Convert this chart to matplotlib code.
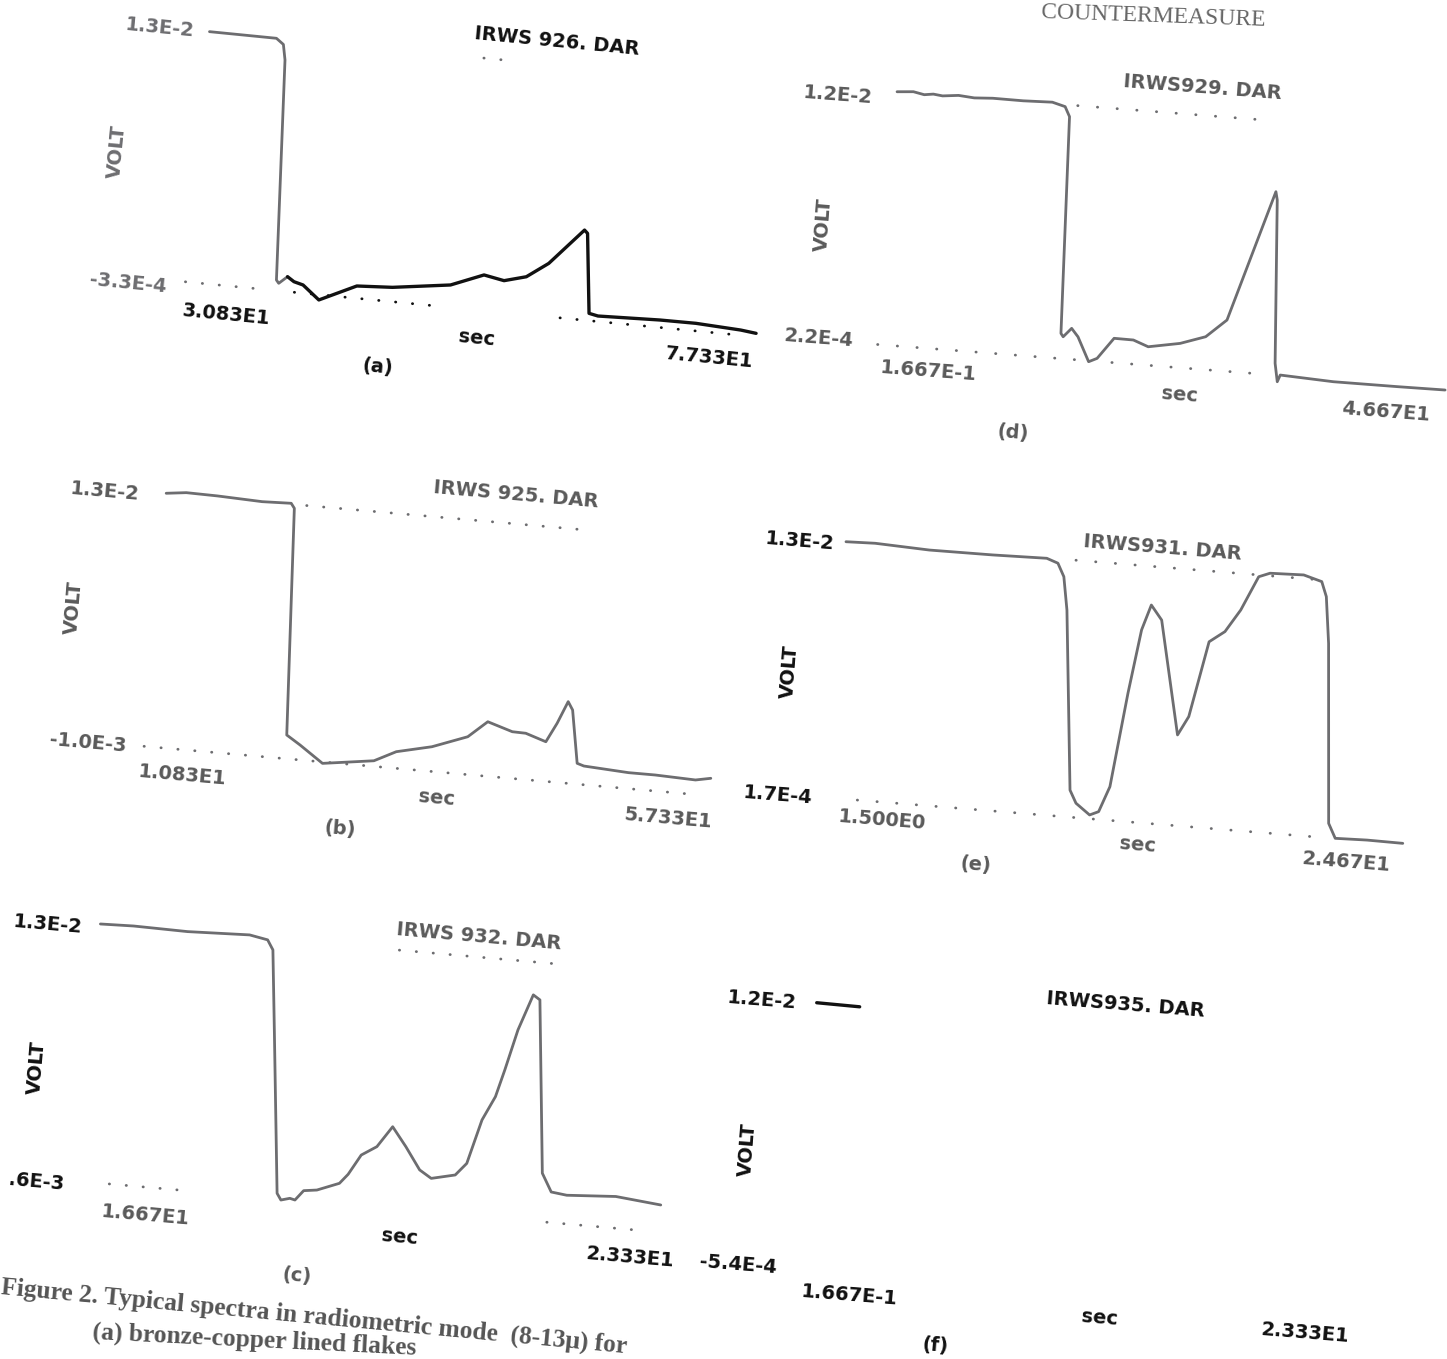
import numpy as np
import matplotlib
matplotlib.use('Agg')
import matplotlib.pyplot as plt
from matplotlib.transforms import Affine2D

# ---- data (time in s, signal in volt) ----
# (a) IRWS926
a_t = [30.83, 36.29, 36.90, 37.15, 38.17, 38.38, 39.04, 39.60, 40.36, 41.75, 44.71, 47.60,
       52.27, 54.90, 56.56, 58.33, 60.04, 62.67, 62.94, 63.68, 64.42, 69.47, 72.39, 76.06, 77.33]
a_v = [1.300e-2, 1.299e-2, 1.270e-2, 1.189e-2, 2.27e-4, 0.65e-4, 4.59e-4, 2.27e-4, 1.0e-4, -6.1e-4,
       3.2e-4, 4.3e-4, 8.5e-4, 1.55e-3, 1.35e-3, 1.67e-3, 2.49e-3, 4.43e-3, 4.27e-3, 0.57e-4,
       -3.9e-5, 6.5e-5, 7.3e-5, -5.4e-5, -1.5e-4]
a_split = 7          # trace turns from grey to black here
a_dots_lo = [(30.83, 36.7), (39.71, 51.03), (61.37, 76.12)]
a_dots_hi = [(53.2, 55.0)]

# (d) IRWS929
d_t = [0.167, 1.5, 2.4, 3.14, 3.9, 5.2, 6.5, 8.01, 10.5, 12.88, 13.95, 14.37, 15.03, 15.23, 15.87,
       16.44, 17.46, 18.13, 19.39, 20.97, 22.22, 24.80, 26.84, 28.47, 31.65, 31.81, 32.66, 32.95,
       33.15, 37.52, 42.75, 46.67]
d_v = [0.01200, 0.01206, 0.01196, 0.01202, 0.01197, 0.01205, 0.01199, 0.01204, 0.01203, 0.01207,
       0.01191, 0.01146, 1.39e-3, 1.24e-3, 1.66e-3, 1.29e-3, 1.75e-4, 3.6e-4, 1.35e-3, 1.34e-3,
       1.08e-3, 1.35e-3, 1.75e-3, 2.6e-3, 8.72e-3, 8.34e-3, 7.64e-4, -8e-5, 2.4e-4, 1.2e-4,
       1.2e-4, 1.34e-4]
d_dots_hi = [(14.97, 31.02)]
d_dots_lo = [(0.167, 16.58), (19.36, 31.58)]

# (b) IRWS925
b_t = [10.83, 12.47, 15.04, 18.73, 21.11, 21.40, 22.40, 22.98, 23.56, 25.52, 29.70, 31.46, 34.34,
       37.19, 38.72, 40.79, 41.90, 43.60, 44.39, 45.14, 45.56, 46.31, 46.88, 50.57, 52.77, 56.09, 57.33]
b_v = [0.0130, 0.01313, 0.0131, 0.0130, 0.01305, 0.01279, 3.06e-4, 6.4e-5, -1.8e-4, -1.08e-3,
       -6.9e-4, -8.5e-5, 3.6e-4, 1.08e-3, 2.0e-3, 1.57e-3, 1.55e-3, 1.18e-3, 2.25e-3, 3.49e-3,
       3.05e-3, 1.47e-4, 3e-5, -1.2e-4, -1.2e-4, -2e-4, -3.5e-5]
b_dots_hi = [(22.39, 45.54)]
b_dots_lo = [(10.83, 56.56)]

# (e) IRWS931
e_t = [1.50, 2.67, 4.85, 7.39, 9.56, 10.02, 10.30, 10.53, 11.23, 11.51, 12.09, 12.44, 12.81, 13.23,
       13.57, 13.88, 14.34, 15.34, 15.73, 16.30, 16.90, 17.46, 18.07, 18.51, 19.86, 20.60, 20.83,
       21.07, 21.65, 21.96, 23.23, 24.67]
e_v = [0.0130, 0.01304, 0.01292, 0.01293, 0.01298, 0.01278, 0.01213, 0.01048, 1.52e-3, 8.9e-4,
       3.6e-4, 5.6e-4, 1.85e-3, 6.58e-3, 9.79e-3, 0.01107, 0.01036, 4.7e-3, 5.66e-3, 9.47e-3,
       0.01004, 0.01118, 0.01291, 0.01313, 0.01318, 0.01292, 0.01219, 9.87e-3, 9.0e-4, 1.8e-4,
       2.2e-4, 2.0e-4]
e_dots_hi = [(10.73, 20.78)]
e_dots_lo = [(2.78, 21.6)]

# (c) IRWS932
c_t = [16.67, 17.05, 17.67, 18.38, 18.59, 18.66, 18.76, 18.95, 19.00, 19.10, 19.16, 19.25, 19.40,
       19.65, 19.74, 19.87, 20.04, 20.20, 20.37, 20.55, 20.69, 20.96, 21.08, 21.21, 21.34, 21.42,
       21.53, 21.67, 21.75, 21.95, 22.07, 22.25, 22.81, 23.33]
c_v = [0.0130, 0.01305, 0.0130, 0.01312, 0.01293, 0.01239, 7.70e-3, -1.3e-3, -1.66e-3, -1.52e-3,
       -1.59e-3, -1.02e-3, -9.2e-4, -4.3e-4, 1.2e-4, 1.27e-3, 1.82e-3, 3.02e-3, 1.96e-3, 7.2e-4,
       3.0e-4, 6.1e-4, 1.32e-3, 3.84e-3, 5.22e-3, 6.77e-3, 9.09e-3, 0.01114, 0.01089, 1.14e-3,
       1.25e-4, 1.8e-5, 1.9e-4, -6.7e-5]
c_dots_hi = [(20.10, 21.87)]
c_dots_lo = [(17.03, 17.83), (22.05, 23.15)]

# (f) IRWS935 - only the first bit of the trace printed
f_t = [0.167, 1.92]
f_v = [0.01200, 0.01197]

FW, FH = 1447, 1359
GREY = '#6d6d70'
DGREY = '#5a5a5a'
BLACK = '#111111'
FONT = ['DejaVu Sans']
SERIF = ['Liberation Serif', 'DejaVu Serif']

fig = plt.figure(figsize=(FW / 100, FH / 100), dpi=100)
fig.patch.set_facecolor('white')


def panel(ox, oy, w, h, ang):
    # axes in the page frame, then tilted like the scanned page
    ax = fig.add_axes([ox / FW, 1 - oy / FH, w / FW, h / FH])
    ax.axis('off')
    tr = ax.transData + Affine2D().rotate_deg_around(ox, FH - oy, -ang)
    return ax, tr


def finish(ax, tlim, vlim):
    ax.set_xlim(*tlim)
    ax.set_ylim(*vlim)


def dots(ax, tr, segs, level, color, gap=6, lw=2.0):
    for t0, t1 in segs:
        ax.plot([t0, t1], [level, level], color=color, lw=lw, ls=(0, (0.1, gap)),
                dash_capstyle='round', transform=tr, clip_on=False)


def trace(ax, tr, t, v, color, lw=2.0):
    ax.plot(t, v, color=color, lw=lw, transform=tr, clip_on=False,
            solid_joinstyle='round', solid_capstyle='round')


def txt(x, y, s, ang, color, size=14, rot=0):
    fig.text(x / FW, 1 - y / FH, s, rotation=rot - ang, rotation_mode='anchor',
             ha='center', va='center', color=color, fontsize=size,
             fontweight='bold', family=FONT)


# ---- (a) ----
ang = 5.5
lim_t, lim_v = (30.83, 77.33), (-3.3e-4, 1.3e-2)
ax, tr = panel(185.4, 281.8, 573, 251.3, ang)
trace(ax, tr, a_t[:a_split], a_v[:a_split], GREY)
trace(ax, tr, a_t[a_split - 1:], a_v[a_split - 1:], BLACK, lw=2.4)
dots(ax, tr, a_dots_lo[:1], lim_v[0], GREY)
dots(ax, tr, a_dots_lo[1:], lim_v[0], BLACK)
dots(ax, tr, a_dots_hi, lim_v[1], GREY)
finish(ax, lim_t, lim_v)
for x, y, s, c in [(160, 28, '1.3E-2', GREY), (128, 283, '-3.3E-4', GREY),
                   (226, 315, '3.083E1', BLACK), (557, 41, 'IRWS 926. DAR', BLACK),
                   (477, 338, 'sec', BLACK), (378, 367, '(a)', BLACK),
                   (709, 358, '7.733E1', BLACK)]:
    txt(x, y, s, ang, c)
txt(117, 152, 'VOLT', ang, GREY, rot=90)

# ---- (d) ----
ang = 4.4
lim_t, lim_v = (0.1667, 46.67), (2.2e-4, 1.2e-2)
ax, tr = panel(877.6, 344.5, 569.3, 253.5, ang)
trace(ax, tr, d_t, d_v, GREY)
dots(ax, tr, d_dots_lo, lim_v[0], GREY, gap=7)
dots(ax, tr, d_dots_hi, lim_v[1], GREY, gap=7)
finish(ax, lim_t, lim_v)
for x, y, s in [(838, 95, '1.2E-2'), (819, 338, '2.2E-4'), (928, 371, '1.667E-1'),
                (1203, 88, 'IRWS929. DAR'), (1180, 395, 'sec'), (1013, 433, '(d)'),
                (1386, 412, '4.667E1')]:
    txt(x, y, s, ang, DGREY)
txt(823, 225, 'VOLT', ang, DGREY, rot=90)

# ---- (b) ----
ang = 5.0
lim_t, lim_v = (10.83, 57.33), (-1.0e-3, 1.3e-2)
ax, tr = panel(144.05, 746.3, 567.4, 254, ang)
trace(ax, tr, b_t, b_v, GREY)
dots(ax, tr, b_dots_lo, lim_v[0], GREY)
dots(ax, tr, b_dots_hi, lim_v[1], GREY)
finish(ax, lim_t, lim_v)
for x, y, s in [(105, 492, '1.3E-2'), (88, 743, '-1.0E-3'), (182, 775, '1.083E1'),
                (516, 495, 'IRWS 925. DAR'), (437, 798, 'sec'), (340, 829, '(b)'),
                (668, 818, '5.733E1')]:
    txt(x, y, s, ang, DGREY)
txt(74, 608, 'VOLT', ang, DGREY, rot=90)

# ---- (e) ----
ang = 4.6
lim_t, lim_v = (1.5, 24.67), (1.7e-4, 1.3e-2)
ax, tr = panel(825.4, 797.5, 579.2, 256.6, ang)
trace(ax, tr, e_t, e_v, GREY)
dots(ax, tr, e_dots_lo, lim_v[0], GREY, gap=7)
dots(ax, tr, e_dots_hi, lim_v[1], GREY, gap=7)
finish(ax, lim_t, lim_v)
for x, y, s, c in [(800, 541, '1.3E-2', BLACK), (778, 795, '1.7E-4', BLACK),
                   (882, 820, '1.500E0', DGREY), (1162, 548, 'IRWS931. DAR', DGREY),
                   (1138, 845, 'sec', DGREY), (976, 865, '(e)', DGREY),
                   (1346, 862, '2.467E1', DGREY)]:
    txt(x, y, s, ang, c)
txt(790, 672, 'VOLT', ang, BLACK, rot=90)

# ---- (c) ----
ang = 5.0
lim_t, lim_v = (16.67, 23.33), (-1.6e-3, 1.3e-2)
ax, tr = panel(77.9, 1181.2, 582.7, 258.2, ang)
trace(ax, tr, c_t, c_v, GREY)
dots(ax, tr, c_dots_lo, lim_v[0], GREY)
dots(ax, tr, c_dots_hi, lim_v[1], GREY)
finish(ax, lim_t, lim_v)
for x, y, s, c in [(48, 925, '1.3E-2', BLACK), (36, 1182, '.6E-3', BLACK),
                   (145, 1215, '1.667E1', DGREY), (479, 937, 'IRWS 932. DAR', DGREY),
                   (400, 1237, 'sec', BLACK), (297, 1276, '(c)', DGREY),
                   (630, 1257, '2.333E1', BLACK)]:
    txt(x, y, s, ang, c)
txt(37, 1068, 'VOLT', ang, BLACK, rot=90)

# ---- (f) ----
ang = 4.6
lim_t, lim_v = (0.1667, 23.33), (-5.4e-4, 1.2e-2)
ax, tr = panel(796.1, 1258.9, 570, 257, ang)
trace(ax, tr, f_t, f_v, BLACK, lw=2.4)
finish(ax, lim_t, lim_v)
for x, y, s in [(762, 1000, '1.2E-2'), (738, 1265, '-5.4E-4'), (849, 1295, '1.667E-1'),
                (1125, 1005, 'IRWS935. DAR'), (1100, 1318, 'sec'), (935, 1346, '(f)'),
                (1305, 1333, '2.333E1')]:
    txt(x, y, s, ang, BLACK)
txt(748, 1150, 'VOLT', ang, BLACK, rot=90)

# ---- page furniture ----
fig.text(1153 / FW, 1 - 16 / FH, 'COUNTERMEASURE', rotation=-2, rotation_mode='anchor',
         ha='center', va='center', color='#666666', fontsize=17, family=SERIF)
fig.text(1 / FW, 1 - 1294 / FH, 'Figure 2. Typical spectra in radiometric mode  (8-13\u03bc) for',
         rotation=-5.4, rotation_mode='anchor', ha='left', va='baseline', color='#555555',
         fontsize=18.4, fontweight='bold', family=SERIF)
fig.text(92 / FW, 1 - 1339 / FH, '(a) bronze-copper lined flakes',
         rotation=-2.8, rotation_mode='anchor', ha='left', va='baseline', color='#555555',
         fontsize=18.4, fontweight='bold', family=SERIF)

fig.savefig('out.png', dpi=100, facecolor='white')
